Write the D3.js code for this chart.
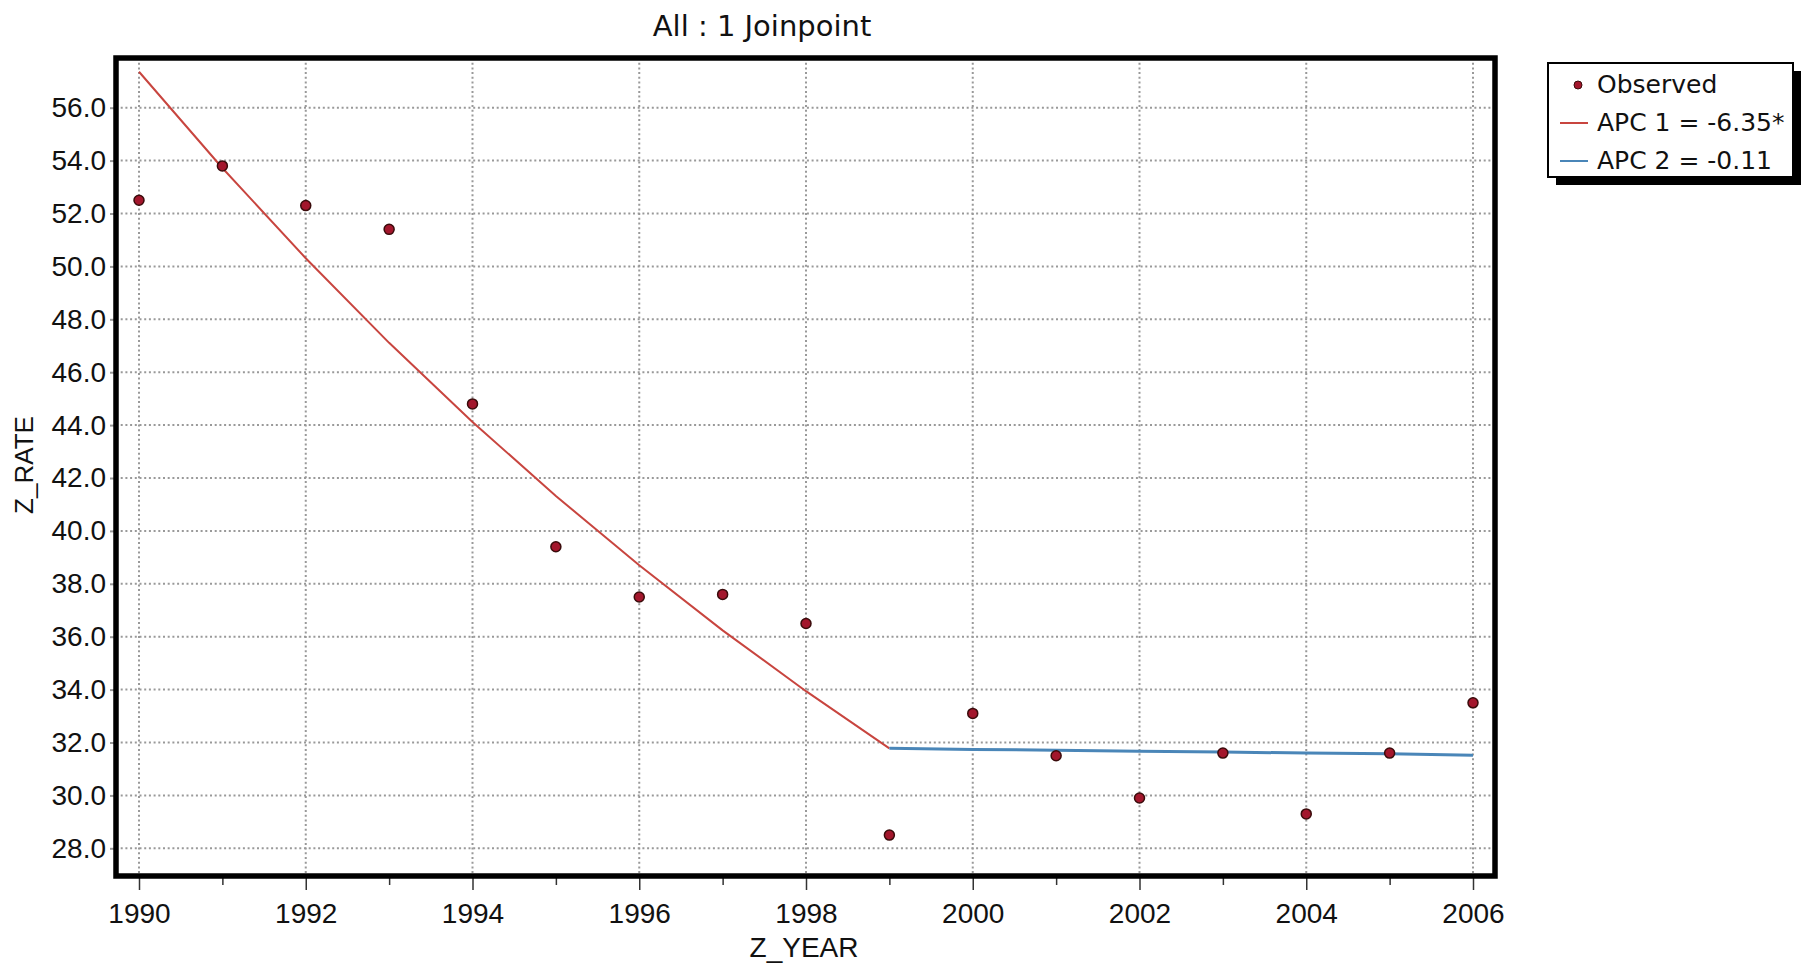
<!DOCTYPE html>
<html>
<head>
<meta charset="utf-8">
<script src="https://cdn.jsdelivr.net/npm/d3@7"></script>
<style>
  body { margin: 0; background: #fff; }
  svg text { font-family: 'Liberation Sans', Arial, sans-serif; fill: #111; }
</style>
</head>
<body>
<svg id="chart" width="1803" height="966"></svg>
<script>
// observed rates
const years = [1990, 1991, 1992, 1993, 1994, 1995, 1996, 1997, 1998, 1999, 2000, 2001, 2002, 2003, 2004, 2005, 2006];
const observed = [52.5, 53.8, 52.3, 51.4, 44.8, 39.4, 37.5, 37.6, 36.5, 28.5, 33.1, 31.5, 29.9, 31.6, 29.3, 31.6, 33.5];

// fitted joinpoint segments
const seg1_years = [1990, 1991, 1992, 1993, 1994, 1995, 1996, 1997, 1998, 1999];
const seg1_fit = [57.36, 53.72, 50.31, 47.11, 44.12, 41.32, 38.70, 36.24, 33.94, 31.78];
const seg2_years = [1999, 2000, 2001, 2002, 2003, 2004, 2005, 2006];
const seg2_fit = [31.78, 31.74, 31.71, 31.67, 31.64, 31.60, 31.57, 31.52];

const x_ticks = [1990, 1992, 1994, 1996, 1998, 2000, 2002, 2004, 2006];
const x_minor = [1991, 1993, 1995, 1997, 1999, 2001, 2003, 2005];
const y_ticks = [28, 30, 32, 34, 36, 38, 40, 42, 44, 46, 48, 50, 52, 54, 56];

const legend_items = [
  { type: 'dot', color: '#a3162c', text: 'Observed' },
  { type: 'line', color: '#c8453f', text: 'APC 1 = -6.35*' },
  { type: 'line', color: '#4a86b8', text: 'APC 2 = -0.11' },
];

const svg = d3.select('svg#chart');
const frame = { left: 116, top: 58, right: 1495, bottom: 876 };

const x = d3.scaleLinear().domain([1990, 2006]).range([139, 1473]);
const y = d3.scaleLinear().domain([28, 56]).range([848.3, 107.7]);

const grid_style = { stroke: '#999', 'stroke-width': 2, 'stroke-dasharray': '2,2.7' };

// grid
const grid = svg.append('g').attr('class', 'grid');
grid.selectAll('line.gx')
  .data(x_ticks)
  .enter()
  .append('line')
  .attr('class', 'gx')
  .attr('x1', d => x(d)).attr('x2', d => x(d))
  .attr('y1', frame.top).attr('y2', frame.bottom)
  .attr('stroke', grid_style.stroke)
  .attr('stroke-width', grid_style['stroke-width'])
  .attr('stroke-dasharray', grid_style['stroke-dasharray']);
grid.selectAll('line.gy')
  .data(y_ticks)
  .enter()
  .append('line')
  .attr('class', 'gy')
  .attr('x1', frame.left).attr('x2', frame.right)
  .attr('y1', d => y(d)).attr('y2', d => y(d))
  .attr('stroke', grid_style.stroke)
  .attr('stroke-width', grid_style['stroke-width'])
  .attr('stroke-dasharray', grid_style['stroke-dasharray']);

// x axis
const x_axis = svg.append('g')
  .attr('transform', `translate(0,${frame.bottom})`)
  .call(d3.axisBottom(x).tickValues(x_ticks).tickFormat(d3.format('d')).tickSize(14).tickPadding(13));
x_axis.select('.domain').remove();
x_axis.selectAll('.tick line').attr('stroke', '#333').attr('stroke-width', 1.5);
x_axis.selectAll('.tick text').style('font-size', '28px').attr('fill', '#111');

const x_minor_axis = svg.append('g')
  .attr('transform', `translate(0,${frame.bottom})`)
  .call(d3.axisBottom(x).tickValues(x_minor).tickFormat('').tickSize(9));
x_minor_axis.select('.domain').remove();
x_minor_axis.selectAll('.tick line').attr('stroke', '#333').attr('stroke-width', 1.5);

// y axis
const y_axis = svg.append('g')
  .attr('transform', `translate(${frame.left},0)`)
  .call(d3.axisLeft(y).tickValues(y_ticks).tickFormat(d3.format('.1f')).tickSize(6).tickPadding(4));
y_axis.select('.domain').remove();
y_axis.selectAll('.tick line').attr('stroke', '#999').attr('stroke-width', 2);
y_axis.selectAll('.tick text').style('font-size', '28px').attr('fill', '#111');

// fitted lines
const line = d3.line().x(d => x(d[0])).y(d => y(d[1]));
svg.append('path')
  .datum(d3.zip(seg1_years, seg1_fit))
  .attr('d', line)
  .attr('fill', 'none')
  .attr('stroke', legend_items[1].color)
  .attr('stroke-width', 2);
svg.append('path')
  .datum(d3.zip(seg2_years, seg2_fit))
  .attr('d', line)
  .attr('fill', 'none')
  .attr('stroke', legend_items[2].color)
  .attr('stroke-width', 3);

// observed points
svg.append('g')
  .selectAll('circle')
  .data(d3.zip(years, observed))
  .enter()
  .append('circle')
  .attr('cx', d => x(d[0]))
  .attr('cy', d => y(d[1]))
  .attr('r', 5)
  .attr('fill', legend_items[0].color)
  .attr('stroke', '#3a0b0b')
  .attr('stroke-width', 1.5);

// frame
svg.append('rect')
  .attr('x', frame.left).attr('y', frame.top)
  .attr('width', frame.right - frame.left).attr('height', frame.bottom - frame.top)
  .attr('fill', 'none')
  .attr('stroke', '#000')
  .attr('stroke-width', 5.5);

// titles
svg.append('text')
  .attr('x', 762).attr('y', 36)
  .attr('text-anchor', 'middle')
  .style('font-family', '\'DejaVu Sans\', sans-serif')
  .style('font-size', '29px')
  .text('All : 1 Joinpoint');
svg.append('text')
  .attr('x', 804).attr('y', 957)
  .attr('text-anchor', 'middle')
  .style('font-size', '28px')
  .text('Z_YEAR');
svg.append('text')
  .attr('transform', 'translate(33,465) rotate(-90)')
  .attr('text-anchor', 'middle')
  .style('font-size', '26px')
  .text('Z_RATE');

// legend
const lgd = { x: 1548, y: 63, w: 245, h: 114, shadow: 8 };
const grp_lgd = svg.append('g');
grp_lgd.append('rect')
  .attr('x', lgd.x + lgd.shadow).attr('y', lgd.y + lgd.shadow)
  .attr('width', lgd.w).attr('height', lgd.h)
  .attr('fill', '#000');
grp_lgd.append('rect')
  .attr('x', lgd.x).attr('y', lgd.y)
  .attr('width', lgd.w).attr('height', lgd.h)
  .attr('fill', '#fff')
  .attr('stroke', '#000')
  .attr('stroke-width', 2);

const rows = grp_lgd.selectAll('.legend')
  .data(legend_items)
  .enter()
  .append('g')
  .attr('class', 'legend')
  .attr('transform', (d, i) => `translate(${lgd.x},${lgd.y + 22 + i * 38})`);
rows.filter(d => d.type === 'dot')
  .append('circle')
  .attr('cx', 30).attr('cy', 0).attr('r', 4)
  .attr('fill', d => d.color)
  .attr('stroke', '#3a0b0b');
rows.filter(d => d.type === 'line')
  .append('line')
  .attr('x1', 12).attr('x2', 40).attr('y1', 0).attr('y2', 0)
  .attr('stroke', d => d.color)
  .attr('stroke-width', 2);
rows.append('text')
  .attr('x', 49).attr('y', 8)
  .style('font-family', '\'DejaVu Sans\', sans-serif')
  .style('font-size', '25px')
  .text(d => d.text);
</script>
</body>
</html>
